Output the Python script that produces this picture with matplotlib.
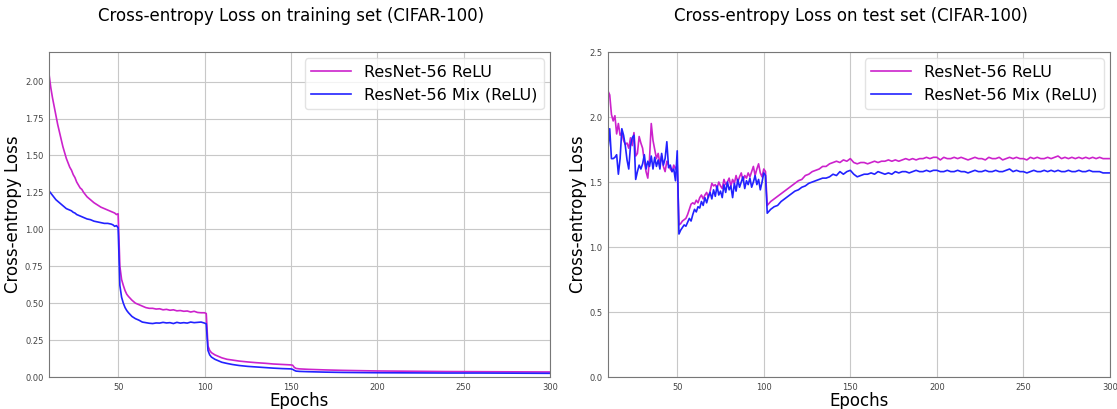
import matplotlib
matplotlib.use("Agg")
import matplotlib.pyplot as plt

# ---- training set (left panel) ----
train_ep = [10, 11, 12, 13, 14, 15, 16, 17, 18, 19, 20, 21, 22, 23, 24, 25, 26, 27, 28, 29, 30,
            32, 34, 36, 38, 40, 42, 44, 46, 47, 48, 49, 50, 51, 52, 53, 54, 55, 56, 58, 60,
            62, 64, 66, 68, 70, 72, 74, 76, 78, 80, 82, 84, 86, 88, 90, 92, 94, 96, 98, 100,
            101, 102, 103, 104, 106, 108, 110, 113, 116, 120, 125, 130, 135, 140, 145, 150,
            151, 152, 153, 155, 160, 170, 180, 190, 200, 220, 240, 260, 280, 300]
train_relu = [2.05, 1.96, 1.89, 1.83, 1.77, 1.71, 1.66, 1.61, 1.56, 1.52, 1.48, 1.45, 1.42, 1.40,
              1.37, 1.35, 1.32, 1.30, 1.28, 1.27, 1.25, 1.22, 1.20, 1.18, 1.165, 1.15, 1.14,
              1.13, 1.12, 1.115, 1.11, 1.10, 1.105, 0.75, 0.66, 0.62, 0.585, 0.56, 0.545, 0.52,
              0.50, 0.49, 0.48, 0.47, 0.465, 0.465, 0.46, 0.462, 0.455, 0.458, 0.452, 0.455,
              0.448, 0.45, 0.445, 0.447, 0.44, 0.445, 0.437, 0.435, 0.435, 0.43, 0.21, 0.18,
              0.165, 0.15, 0.14, 0.13, 0.12, 0.115, 0.108, 0.102, 0.097, 0.093, 0.088, 0.085,
              0.082, 0.08, 0.065, 0.058, 0.055, 0.052, 0.048, 0.045, 0.043, 0.041, 0.039,
              0.037, 0.036, 0.035, 0.034]
train_mix = [1.26, 1.245, 1.23, 1.215, 1.20, 1.19, 1.18, 1.17, 1.16, 1.15, 1.14, 1.135, 1.13,
             1.125, 1.115, 1.11, 1.10, 1.095, 1.09, 1.085, 1.08, 1.07, 1.065, 1.055, 1.05,
             1.045, 1.04, 1.04, 1.035, 1.03, 1.02, 1.025, 1.01, 0.62, 0.54, 0.50, 0.47, 0.45,
             0.435, 0.41, 0.395, 0.385, 0.372, 0.368, 0.364, 0.362, 0.366, 0.365, 0.37, 0.366,
             0.368, 0.362, 0.37, 0.365, 0.368, 0.365, 0.372, 0.368, 0.37, 0.372, 0.365, 0.36,
             0.18, 0.15, 0.135, 0.12, 0.11, 0.10, 0.092, 0.085, 0.078, 0.072, 0.068, 0.064,
             0.06, 0.057, 0.055, 0.052, 0.045, 0.04, 0.038, 0.036, 0.033, 0.031, 0.030, 0.029,
             0.028, 0.027, 0.027, 0.026, 0.025]

# ---- test set (right panel) ----
test_ep = list(range(10, 102)) + list(range(102, 301, 2))
test_relu = [
    # 10-50
    2.20, 2.17, 2.02, 1.97, 2.01, 1.87, 1.95, 1.86, 1.88, 1.82, 1.79, 1.80, 1.76, 1.84, 1.78,
    1.88, 1.70, 1.72, 1.85, 1.80, 1.76, 1.66, 1.58, 1.53, 1.68, 1.95, 1.82, 1.75, 1.68, 1.72,
    1.64, 1.70, 1.62, 1.58, 1.66, 1.63, 1.60, 1.58, 1.63, 1.60, 1.63,
    # 51-101
    1.17, 1.18, 1.20, 1.21, 1.22, 1.25, 1.29, 1.33, 1.34, 1.33, 1.36, 1.34, 1.38, 1.40, 1.37,
    1.40, 1.42, 1.38, 1.43, 1.49, 1.47, 1.48, 1.45, 1.50, 1.47, 1.45, 1.52, 1.48, 1.50, 1.53,
    1.47, 1.52, 1.49, 1.55, 1.50, 1.54, 1.57, 1.51, 1.55, 1.53, 1.57, 1.54, 1.58, 1.62, 1.55,
    1.60, 1.64, 1.57, 1.54, 1.60, 1.58,
    # 102-300 step 2
    1.32, 1.35, 1.37, 1.39, 1.41, 1.43, 1.45, 1.47, 1.49, 1.51, 1.52, 1.55, 1.56, 1.58, 1.59,
    1.60, 1.62, 1.62, 1.64, 1.65, 1.66, 1.65, 1.67, 1.66, 1.68, 1.65, 1.64, 1.65, 1.65, 1.64,
    1.65, 1.66, 1.65, 1.66, 1.66, 1.67, 1.66, 1.67, 1.66, 1.67, 1.68, 1.67, 1.68, 1.67, 1.68,
    1.68, 1.69, 1.68, 1.69, 1.69, 1.67, 1.69, 1.68, 1.68, 1.69, 1.68, 1.69, 1.68, 1.67, 1.68,
    1.69, 1.68, 1.68, 1.67, 1.69, 1.68, 1.68, 1.69, 1.67, 1.68, 1.69, 1.68, 1.69, 1.68, 1.68,
    1.67, 1.69, 1.68, 1.69, 1.68, 1.68, 1.69, 1.68, 1.69, 1.70, 1.68, 1.69, 1.68, 1.69, 1.68,
    1.69, 1.68, 1.69, 1.68, 1.69, 1.68, 1.69, 1.68, 1.68, 1.68,
]
test_mix = [
    # 10-50
    1.75, 1.91, 1.68, 1.68, 1.69, 1.71, 1.56, 1.68, 1.91, 1.86, 1.78, 1.67, 1.60, 1.78, 1.84,
    1.86, 1.52, 1.58, 1.63, 1.60, 1.64, 1.71, 1.60, 1.66, 1.62, 1.70, 1.60, 1.69, 1.62, 1.67,
    1.60, 1.72, 1.63, 1.68, 1.81, 1.61, 1.63, 1.58, 1.60, 1.51, 1.74,
    # 51-101
    1.10, 1.13, 1.15, 1.17, 1.16, 1.19, 1.22, 1.20, 1.25, 1.29, 1.27, 1.31, 1.30, 1.35, 1.32,
    1.38, 1.34, 1.39, 1.42, 1.37, 1.44, 1.39, 1.47, 1.40, 1.43, 1.38, 1.48, 1.42, 1.50, 1.44,
    1.47, 1.38, 1.49, 1.43, 1.52, 1.46, 1.50, 1.54, 1.45, 1.51, 1.48, 1.53, 1.46, 1.50, 1.55,
    1.48, 1.52, 1.44, 1.50, 1.57, 1.55,
    # 102-300 step 2
    1.26, 1.29, 1.31, 1.32, 1.35, 1.37, 1.39, 1.41, 1.43, 1.44, 1.46, 1.47, 1.49, 1.50, 1.51,
    1.52, 1.53, 1.53, 1.54, 1.56, 1.55, 1.58, 1.56, 1.58, 1.59, 1.56, 1.54, 1.55, 1.56, 1.56,
    1.57, 1.56, 1.58, 1.57, 1.56, 1.57, 1.56, 1.58, 1.57, 1.58, 1.58, 1.57, 1.58, 1.59, 1.58,
    1.58, 1.59, 1.58, 1.59, 1.59, 1.58, 1.58, 1.59, 1.58, 1.58, 1.59, 1.58, 1.58, 1.57, 1.58,
    1.59, 1.58, 1.58, 1.59, 1.58, 1.58, 1.59, 1.58, 1.58, 1.59, 1.60, 1.58, 1.59, 1.58, 1.58,
    1.57, 1.58, 1.59, 1.58, 1.58, 1.59, 1.58, 1.59, 1.58, 1.59, 1.58, 1.58, 1.59, 1.58, 1.58,
    1.59, 1.58, 1.58, 1.59, 1.58, 1.58, 1.58, 1.57, 1.57, 1.57,
]

RELU_COLOR = "#CC22CC"
MIX_COLOR = "#2222FF"

fig = plt.figure(figsize=(11.17, 4.09), dpi=100)
ax_tr = fig.add_axes([0.0439, 0.0782, 0.4485, 0.7946])
ax_te = fig.add_axes([0.5443, 0.0782, 0.4494, 0.7946])

panels = [
    (ax_tr, train_ep, train_relu, train_mix, "Cross-entropy Loss on training set (CIFAR-100)", 2.2),
    (ax_te, test_ep, test_relu, test_mix, "Cross-entropy Loss on test set (CIFAR-100)", 2.5),
]
for ax, ep, relu, mix, title, ymax in panels:
    ax.plot(ep, relu, color=RELU_COLOR, linewidth=1.2, label="ResNet-56 ReLU")
    ax.plot(ep, mix, color=MIX_COLOR, linewidth=1.2, label="ResNet-56 Mix (ReLU)")
    ax.set_xlim(10, 300)
    ax.set_ylim(0, ymax)
    ax.set_xticks([50, 100, 150, 200, 250, 300])
    ax.set_title(title, fontsize=12, pad=22, x=0.484)
    ax.set_xlabel("Epochs", fontsize=12, labelpad=0)
    ax.set_ylabel("Cross-entropy Loss", fontsize=12, labelpad=2)
    ax.grid(color="#C8C8C8", linewidth=0.8)
    ax.set_axisbelow(True)
    ax.tick_params(labelsize=6, length=0, pad=4, labelcolor="#444444")
    for s in ax.spines.values():
        s.set_color("#777777")
    ax.legend(loc="upper right", fontsize=11.5, handlelength=2.5, fancybox=True,
              framealpha=0.8, edgecolor="#DDDDDD", borderaxespad=0.4)

ax_tr.set_yticks([0, 0.25, 0.5, 0.75, 1.0, 1.25, 1.5, 1.75, 2.0])
ax_tr.set_yticklabels(["0.00", "0.25", "0.50", "0.75", "1.00", "1.25", "1.50", "1.75", "2.00"])
ax_te.set_yticks([0, 0.5, 1.0, 1.5, 2.0, 2.5])

fig.savefig("out.png", dpi=100)
